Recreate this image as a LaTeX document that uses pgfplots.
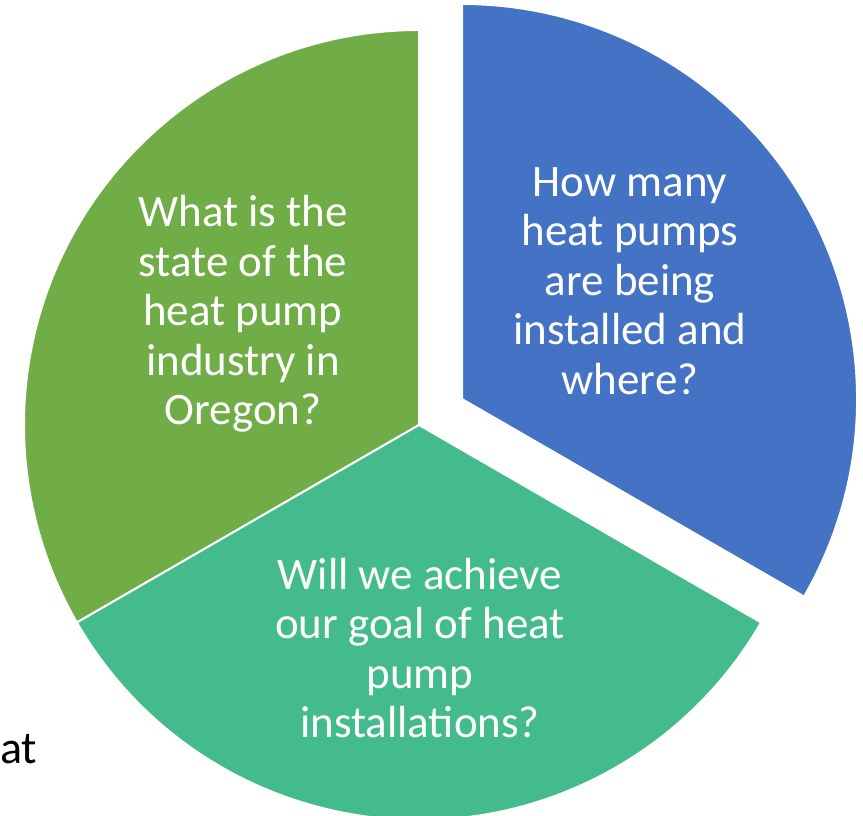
\documentclass[border=0pt]{standalone}
\usepackage{pgfplots}
\pgfplotsset{compat=1.18}
\usepackage{fontspec}
\setmainfont{Carlito}
\definecolor{pgreen}{HTML}{70AD47}
\definecolor{pteal}{HTML}{44BB8C}
\definecolor{pblue}{HTML}{4472C4}
\begin{document}
\begin{tikzpicture}
\begin{axis}[x=1bp,y=1bp,xmin=0,xmax=863,ymin=0,ymax=816,hide axis,
  scale only axis,clip=true]
% slice values (equal thirds): 1,1,1 -> 120 degrees each
\def\R{395bp}
% green: 90..210
\fill[pgreen,draw=white,line width=2bp] (axis cs:419,391) -- ++(90:\R) arc[start angle=90,end angle=210,radius=\R] -- cycle;
% teal: 210..330
\fill[pteal,draw=white,line width=2bp] (axis cs:419,391) -- ++(210:\R) arc[start angle=210,end angle=330,radius=\R] -- cycle;
% blue: 330..450, exploded along 30 deg
\fill[pblue,draw=white,line width=2bp] (axis cs:462,417) -- ++(-30:\R) arc[start angle=-30,end angle=90,radius=\R] -- cycle;
\node[text=white,align=center,font=\fontsize{45bp}{49.5bp}\selectfont] at (axis cs:243,502) {What is the\\state of the\\heat pump\\industry in\\Oregon?};
\node[text=white,align=center,font=\fontsize{45bp}{49.5bp}\selectfont] at (axis cs:630,535) {How many\\heat pumps\\are being\\installed and\\where?};
\node[text=white,align=center,font=\fontsize{45bp}{49.5bp}\selectfont] at (axis cs:420,168) {Will we achieve\\our goal of heat\\pump\\installations?};
\node[anchor=base west,inner sep=0pt,font=\fontsize{46bp}{52bp}\selectfont] at (axis cs:0,52) {at};
\end{axis}
\pgfresetboundingbox
\path (current axis.south west) rectangle (current axis.north east);
\end{tikzpicture}
\end{document}
